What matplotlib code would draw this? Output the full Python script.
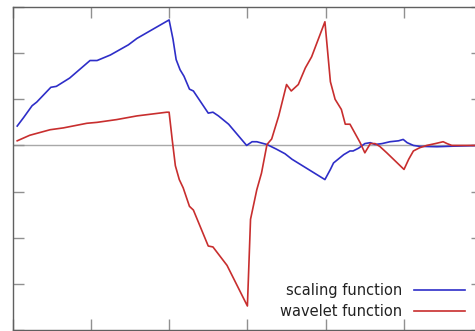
import numpy as np
import matplotlib
matplotlib.use('Agg')
import matplotlib.pyplot as plt

# values
scaling_x = [0.06, 0.14, 0.25, 0.31, 0.49, 0.56, 0.73, 0.99, 1.08, 1.25, 1.48, 1.59,
             2.00, 2.05, 2.09, 2.14, 2.19, 2.26, 2.31, 2.50, 2.56, 2.63, 2.76, 2.99,
             3.06, 3.12, 3.25, 3.37, 3.48, 3.57, 3.99, 4.06, 4.10, 4.23, 4.31, 4.35,
             4.42, 4.50, 4.57, 4.63, 4.72, 4.82, 4.93, 4.99, 5.04, 5.12, 5.20, 5.42,
             5.63, 6.00]
scaling_y = [0.21, 0.30, 0.43, 0.47, 0.63, 0.64, 0.73, 0.92, 0.92, 0.98, 1.09, 1.16,
             1.36, 1.15, 0.93, 0.82, 0.75, 0.61, 0.59, 0.35, 0.36, 0.32, 0.23, 0.00,
             0.04, 0.04, 0.01, -0.04, -0.09, -0.15, -0.37, -0.26, -0.19, -0.10, -0.06, -0.06,
             -0.03, 0.02, 0.03, 0.01, 0.02, 0.04, 0.05, 0.065, 0.03, 0.00, -0.01, -0.014,
             -0.008, 0.0]

wavelet_x = [0.06, 0.22, 0.48, 0.65, 0.95, 1.08, 1.33, 1.59, 1.97, 2.00, 2.04, 2.08,
             2.13, 2.18, 2.26, 2.31, 2.50, 2.56, 2.74, 3.00, 3.04, 3.12, 3.18, 3.25,
             3.31, 3.40, 3.50, 3.56, 3.65, 3.74, 3.82, 3.99, 4.06, 4.12, 4.20, 4.25,
             4.31, 4.44, 4.50, 4.57, 4.63, 4.69, 4.78, 5.00, 5.06, 5.12, 5.20, 5.29,
             5.40, 5.50, 5.55, 5.61, 6.00]
wavelet_y = [0.05, 0.11, 0.17, 0.19, 0.24, 0.25, 0.28, 0.32, 0.36, 0.36, 0.06, -0.22,
             -0.37, -0.46, -0.66, -0.70, -1.09, -1.10, -1.30, -1.74, -0.80, -0.48, -0.30, 0.01,
             0.07, 0.32, 0.66, 0.59, 0.66, 0.84, 0.96, 1.34, 0.69, 0.50, 0.39, 0.23,
             0.23, 0.03, -0.08, 0.02, 0.02, -0.01, -0.08, -0.26, -0.15, -0.06, -0.025, 0.0,
             0.02, 0.04, 0.02, 0.0, 0.0]

labels = ['scaling function', 'wavelet function']

W, H = 475, 331
fig = plt.figure(figsize=(W / 100, H / 100), dpi=100)
ax = fig.add_axes([12.5 / W, 1.0 / H, 6 * 78.3 / W, 323.0 / H])

ax.axhline(0, color='#a8a8a8', lw=1.0, zorder=1)
l1, = ax.plot(scaling_x, scaling_y, color='#2e2ec8', lw=1.2, zorder=3)
l2, = ax.plot(wavelet_x, wavelet_y, color='#c82e2e', lw=1.2, zorder=3)

ax.set_xlim(0, 6)
ax.set_ylim(-2, 1.5)
ax.set_xticks(np.arange(0, 7, 1))
ax.set_yticks(np.arange(-2, 1.75, 0.5))
ax.tick_params(direction='in', length=8, width=1, color='#909090',
               top=True, right=True, labelbottom=False, labelleft=False)
for s in ax.spines.values():
    s.set_color('#606060')
    s.set_linewidth(1.0)

ax.legend([l1, l2], labels, loc='lower right', markerfirst=False, frameon=False,
          bbox_to_anchor=(465 / W, (H - 319) / H), bbox_transform=fig.transFigure,
          borderaxespad=0, borderpad=0, handlelength=3.5, handletextpad=0.8,
          labelspacing=0.4, fontsize=10.5, labelcolor='#222222')

fig.savefig('out.png', dpi=100)
